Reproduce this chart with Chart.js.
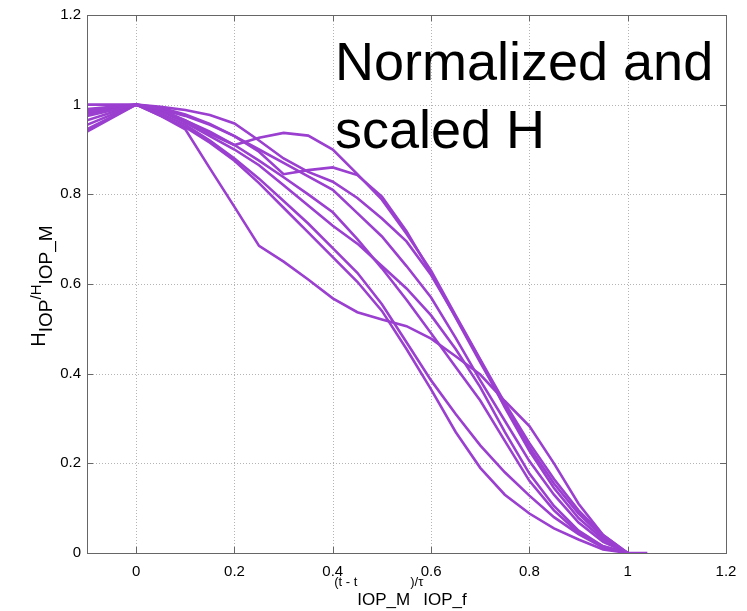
<!DOCTYPE html>
<html>
<head>
<meta charset="utf-8">
<script src="https://cdn.jsdelivr.net/npm/chart.js@4.4.0/dist/chart.umd.min.js"></script>
<style>
  body { margin: 0; background: #fff; }
  #grafico { display: block; }
</style>
</head>
<body>
<canvas id="grafico" width="747" height="611"></canvas>
<script>
// datos
let xValores = [-0.1, 0, 0.05, 0.1, 0.15, 0.2, 0.25, 0.3, 0.35, 0.4, 0.45, 0.5, 0.55, 0.6, 0.65, 0.7, 0.75, 0.8, 0.85, 0.9, 0.95, 1.0];

let curvaBump  = [0.975, 1, 0.99, 0.965, 0.935, 0.91, 0.926, 0.937, 0.931, 0.900, 0.845, 0.788, 0.712, 0.630, 0.530, 0.432, 0.335, 0.245, 0.165, 0.095, 0.040, 0];
let curvaKink  = [0.99, 1, 0.993, 0.978, 0.957, 0.930, 0.895, 0.845, 0.854, 0.860, 0.843, 0.795, 0.718, 0.625, 0.525, 0.425, 0.328, 0.236, 0.155, 0.088, 0.035, 0];
let curvaTop   = [1.0, 1, 0.995, 0.988, 0.977, 0.958, 0.920, 0.880, 0.850, 0.828, 0.792, 0.746, 0.695, 0.620, 0.527, 0.430, 0.325, 0.228, 0.145, 0.078, 0.030, 0];
let curva5     = [0.985, 1, 0.99, 0.975, 0.955, 0.930, 0.900, 0.870, 0.840, 0.810, 0.758, 0.706, 0.640, 0.570, 0.480, 0.385, 0.295, 0.205, 0.130, 0.068, 0.025, 0];
let curva6     = [0.98, 1, 0.985, 0.965, 0.94, 0.91, 0.875, 0.838, 0.80, 0.76, 0.70, 0.635, 0.565, 0.49, 0.415, 0.34, 0.25, 0.161, 0.095, 0.045, 0.015, 0];
let curva7     = [0.965, 1, 0.985, 0.96, 0.93, 0.90, 0.865, 0.82, 0.775, 0.73, 0.69, 0.64, 0.59, 0.53, 0.455, 0.37, 0.27, 0.177, 0.105, 0.05, 0.015, 0];
let curva8     = [0.955, 1, 0.98, 0.955, 0.92, 0.88, 0.835, 0.785, 0.735, 0.68, 0.625, 0.555, 0.47, 0.385, 0.31, 0.24, 0.18, 0.128, 0.08, 0.042, 0.012, 0];
let curva9     = [0.945, 1, 0.975, 0.95, 0.915, 0.875, 0.825, 0.77, 0.715, 0.66, 0.605, 0.54, 0.455, 0.365, 0.27, 0.19, 0.13, 0.088, 0.055, 0.03, 0.008, 0];
let curvaA     = [0.94, 1, 0.975, 0.945, 0.858, 0.772, 0.685, 0.65, 0.61, 0.568, 0.537, 0.521, 0.506, 0.478, 0.439, 0.398, 0.339, 0.283, 0.2, 0.11, 0.04, 0];

// una curva sigue un poco despues de 1
let colaX = [1.04];
let colaY = [0];

let ticksX = [0, 0.2, 0.4, 0.6, 0.8, 1, 1.2];
let ticksY = [0, 0.2, 0.4, 0.6, 0.8, 1, 1.2];

let todasLasCurvas = [curvaBump, curvaKink, curvaTop, curva5, curva6, curva7, curva8, curva9, curvaA];
let violeta = "#9a3fcf";
let fuente = "'Liberation Sans', Arial, sans-serif";

let armarPuntos = (ys, i) => {
    let puntos = xValores.map((x, j) => ({ x: x, y: ys[j] }));
    if (i == 0) {
        colaX.forEach((x, j) => puntos.push({ x: x, y: colaY[j] }));
    }
    return puntos;
};

let datasets = todasLasCurvas.map((ys, i) => ({
    data: armarPuntos(ys, i),
    borderColor: violeta,
    borderWidth: 2.6,
    pointRadius: 0,
    tension: 0,
    fill: false
}));

// texto con subindices
let textoRico = (ctx, partes, x, y, rotar) => {
    ctx.save();
    ctx.translate(x, y);
    if (rotar) ctx.rotate(-Math.PI / 2);
    let ancho = 0;
    partes.forEach(p => {
        ctx.font = p.size + "px " + fuente;
        ancho += ctx.measureText(p.t).width;
    });
    let cx = -ancho / 2;
    ctx.fillStyle = "#000";
    ctx.textBaseline = "alphabetic";
    ctx.textAlign = "left";
    partes.forEach(p => {
        ctx.font = p.size + "px " + fuente;
        ctx.fillText(p.t, cx, p.dy);
        cx += ctx.measureText(p.t).width;
    });
    ctx.restore();
};

let pluginMarco = {
    id: "marco",
    beforeDatasetsDraw(chart) {
        let ctx = chart.ctx;
        let a = chart.chartArea;
        let sx = chart.scales.x;
        let sy = chart.scales.y;
        ctx.save();
        // grilla punteada
        ctx.strokeStyle = "#b4b4b4";
        ctx.lineWidth = 1;
        ctx.setLineDash([1, 2]);
        ticksX.forEach(v => {
            let px = Math.round(sx.getPixelForValue(v)) + 0.5;
            ctx.beginPath(); ctx.moveTo(px, a.top); ctx.lineTo(px, a.bottom); ctx.stroke();
        });
        ticksY.forEach(v => {
            let py = Math.round(sy.getPixelForValue(v)) + 0.5;
            ctx.beginPath(); ctx.moveTo(a.left, py); ctx.lineTo(a.right, py); ctx.stroke();
        });
        ctx.setLineDash([]);
        // marcas hacia adentro
        ctx.strokeStyle = "#666";
        ticksX.forEach(v => {
            let px = Math.round(sx.getPixelForValue(v)) + 0.5;
            ctx.beginPath(); ctx.moveTo(px, a.bottom); ctx.lineTo(px, a.bottom - 6); ctx.stroke();
            ctx.beginPath(); ctx.moveTo(px, a.top); ctx.lineTo(px, a.top + 6); ctx.stroke();
        });
        ticksY.forEach(v => {
            let py = Math.round(sy.getPixelForValue(v)) + 0.5;
            ctx.beginPath(); ctx.moveTo(a.left, py); ctx.lineTo(a.left + 6, py); ctx.stroke();
            ctx.beginPath(); ctx.moveTo(a.right, py); ctx.lineTo(a.right - 6, py); ctx.stroke();
        });
        ctx.restore();
    },
    afterDatasetsDraw(chart) {
        let ctx = chart.ctx;
        let a = chart.chartArea;
        ctx.save();
        ctx.strokeStyle = "#666";
        ctx.lineWidth = 1;
        ctx.strokeRect(Math.round(a.left) + 0.5, Math.round(a.top) + 0.5, Math.round(a.right - a.left), Math.round(a.bottom - a.top));

        // texto grande
        ctx.fillStyle = "#000";
        ctx.font = "54px " + fuente;
        ctx.textAlign = "left";
        ctx.textBaseline = "alphabetic";
        ctx.fillText("Normalized and", 335, 80);
        ctx.fillText("scaled H", 335, 148);

        // titulo eje x
        let cx = (a.left + a.right) / 2;
        textoRico(ctx, [
            { t: "(t - t", size: 13, dy: 0 },
            { t: "IOP_M", size: 17, dy: 19 },
            { t: ")/\u03C4", size: 13, dy: 0 },
            { t: "IOP_f", size: 17, dy: 19 }
        ], cx - 6, 586, false);

        // titulo eje y
        textoRico(ctx, [
            { t: "H", size: 20, dy: 0 },
            { t: "IOP", size: 19, dy: 7 },
            { t: "/H", size: 15, dy: -4 },
            { t: "IOP_M", size: 19, dy: 7 }
        ], 45, 286, true);
        ctx.restore();
    }
};

const config = {
    type: "line",
    data: { datasets: datasets },
    options: {
        responsive: false,
        animation: false,
        parsing: true,
        layout: { padding: { left: 0, top: 12, right: 21, bottom: 0 } },
        plugins: { legend: { display: false }, tooltip: { enabled: false } },
        scales: {
            x: {
                type: "linear",
                min: -0.1,
                max: 1.2,
                grid: { display: false, drawTicks: false },
                border: { display: false },
                afterBuildTicks: (scale) => { scale.ticks = ticksX.map(v => ({ value: v })); },
                afterFit: (scale) => { scale.height = 58; },
                ticks: {
                    padding: 10,
                    color: "#000",
                    font: { family: fuente, size: 15 },
                    maxRotation: 0,
                    callback: (v) => String(Math.round(v * 10) / 10)
                }
            },
            y: {
                min: 0,
                max: 1.2,
                grid: { display: false, drawTicks: false },
                border: { display: false },
                afterBuildTicks: (scale) => { scale.ticks = ticksY.map(v => ({ value: v })); },
                afterFit: (scale) => { scale.width = 87; },
                ticks: {
                    padding: 6,
                    color: "#000",
                    font: { family: fuente, size: 15 },
                    callback: (v) => String(Math.round(v * 10) / 10)
                }
            }
        }
    },
    plugins: [pluginMarco]
};

const miGrafico = new Chart(document.getElementById("grafico"), config);
</script>
</body>
</html>
